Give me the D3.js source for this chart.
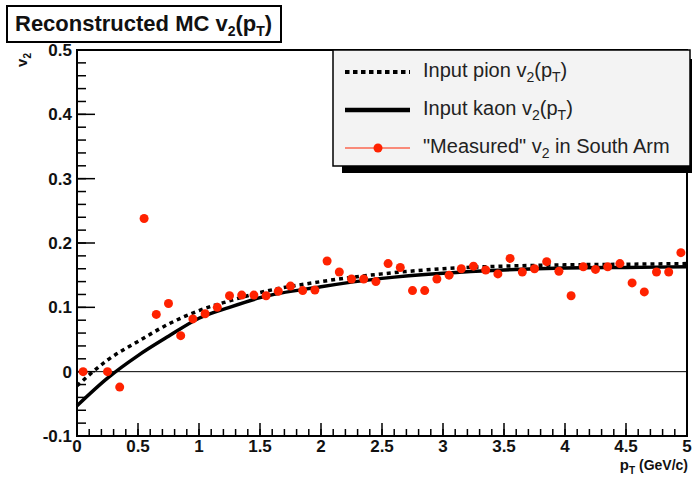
<!DOCTYPE html>
<html>
<head>
<meta charset="utf-8">
<script src="https://cdn.jsdelivr.net/npm/d3@7"></script>
<style>
  body { margin: 0; background: #fff; }
  svg { display: block; font-family: 'Liberation Sans', Arial, Helvetica, sans-serif; }
  .tick-label { font-size: 17px; font-weight: bold; fill: #111; }
  .legend-text { font-size: 20px; fill: #222; }
</style>
</head>
<body>
<div id="chart"></div>
<script>
// input v2(pT) curves
var curvePt = [0, 0.25, 0.5, 0.75, 1, 1.25, 1.5, 2, 2.5, 3, 3.5, 4, 4.5, 5];
var pionV2 = [-0.022, 0.018, 0.047, 0.074, 0.095, 0.110, 0.123, 0.140, 0.152, 0.160, 0.164, 0.166, 0.167, 0.168];
var kaonV2 = [-0.053, -0.010, 0.025, 0.055, 0.083, 0.100, 0.115, 0.132, 0.145, 0.153, 0.158, 0.161, 0.162, 0.163];

// "measured" points in the south arm
var measuredPt = [0.05, 0.25, 0.35, 0.55, 0.65, 0.75, 0.85, 0.95, 1.05, 1.15, 1.25, 1.35, 1.45, 1.55, 1.65, 1.75,
  1.85, 1.95, 2.05, 2.15, 2.25, 2.35, 2.45, 2.55, 2.65, 2.75, 2.85, 2.95, 3.05, 3.15, 3.25, 3.35, 3.45, 3.55,
  3.65, 3.75, 3.85, 3.95, 4.05, 4.15, 4.25, 4.35, 4.45, 4.55, 4.65, 4.75, 4.85, 4.95];
var measuredV2 = [0.000, 0.000, -0.024, 0.238, 0.089, 0.106, 0.056, 0.082, 0.090, 0.100, 0.118, 0.119, 0.119, 0.118, 0.125, 0.133,
  0.126, 0.127, 0.172, 0.155, 0.144, 0.144, 0.140, 0.168, 0.162, 0.126, 0.126, 0.144, 0.150, 0.160, 0.164, 0.158, 0.152, 0.176,
  0.155, 0.160, 0.171, 0.156, 0.118, 0.163, 0.159, 0.163, 0.168, 0.138, 0.124, 0.155, 0.155, 0.185];

var xMajorTicks = [0, 0.5, 1, 1.5, 2, 2.5, 3, 3.5, 4, 4.5, 5];
var xTickLabels = ['0', '0.5', '1', '1.5', '2', '2.5', '3', '3.5', '4', '4.5', '5'];
var yMajorTicks = [-0.1, 0, 0.1, 0.2, 0.3, 0.4, 0.5];
var yTickLabels = ['-0.1', '0', '0.1', '0.2', '0.3', '0.4', '0.5'];

var width = 692, height = 477;
var frame = { left: 77, right: 687, top: 50, bottom: 436 };
var red = '#ff2200';

var svg = d3.select('#chart').append('svg')
    .attr('width', width)
    .attr('height', height);

var x = d3.scaleLinear().domain([0, 5]).range([frame.left, frame.right]);
var y = d3.scaleLinear().domain([-0.1, 0.5]).range([frame.bottom, frame.top]);

// minor tick positions (0.1 on x, 0.02 on y)
var xMinor = d3.range(0, 51).map(function (i) { return i / 10; });
var yMinor = d3.range(0, 31).map(function (i) { return -0.1 + i * 0.02; });

// x axis: ticks point up into the frame
var xAxis = svg.append('g').attr('class', 'x axis');
xAxis.selectAll('line.minor')
  .data(xMinor)
  .enter().append('line')
    .attr('x1', function (d) { return x(d); })
    .attr('x2', function (d) { return x(d); })
    .attr('y1', frame.bottom)
    .attr('y2', frame.bottom - 7)
    .attr('stroke', '#000')
    .attr('stroke-width', 1.5);
xAxis.selectAll('line.major')
  .data(xMajorTicks)
  .enter().append('line')
    .attr('x1', function (d) { return x(d); })
    .attr('x2', function (d) { return x(d); })
    .attr('y1', frame.bottom)
    .attr('y2', frame.bottom - 13)
    .attr('stroke', '#000')
    .attr('stroke-width', 1.5);
xAxis.selectAll('text')
  .data(xMajorTicks)
  .enter().append('text')
    .attr('class', 'tick-label')
    .attr('x', function (d) { return x(d); })
    .attr('y', 452)
    .attr('text-anchor', 'middle')
    .text(function (d, i) { return xTickLabels[i]; });

// y axis: ticks point right into the frame
var yAxis = svg.append('g').attr('class', 'y axis');
yAxis.selectAll('line.minor')
  .data(yMinor)
  .enter().append('line')
    .attr('x1', frame.left)
    .attr('x2', frame.left + 9)
    .attr('y1', function (d) { return y(d); })
    .attr('y2', function (d) { return y(d); })
    .attr('stroke', '#000')
    .attr('stroke-width', 1.5);
yAxis.selectAll('line.major')
  .data(yMajorTicks)
  .enter().append('line')
    .attr('x1', frame.left)
    .attr('x2', frame.left + 18)
    .attr('y1', function (d) { return y(d); })
    .attr('y2', function (d) { return y(d); })
    .attr('stroke', '#000')
    .attr('stroke-width', 1.5);
yAxis.selectAll('text')
  .data(yMajorTicks)
  .enter().append('text')
    .attr('class', 'tick-label')
    .attr('x', 72)
    .attr('y', function (d) { return y(d) + 6; })
    .attr('text-anchor', 'end')
    .text(function (d, i) { return yTickLabels[i]; });

// frame
svg.append('rect')
    .attr('x', frame.left)
    .attr('y', frame.top)
    .attr('width', frame.right - frame.left)
    .attr('height', frame.bottom - frame.top)
    .attr('fill', 'none')
    .attr('stroke', '#000')
    .attr('stroke-width', 2);

// zero line
svg.append('line')
    .attr('x1', x(0))
    .attr('x2', x(5))
    .attr('y1', y(0))
    .attr('y2', y(0))
    .attr('stroke', '#000')
    .attr('stroke-width', 1);

// input curves
var line = d3.line()
    .x(function (d) { return x(d[0]); })
    .y(function (d) { return y(d[1]); })
    .curve(d3.curveMonotoneX);

svg.append('path')
    .attr('d', line(d3.zip(curvePt, kaonV2)))
    .attr('fill', 'none')
    .attr('stroke', '#000')
    .attr('stroke-width', 3.5);

svg.append('path')
    .attr('d', line(d3.zip(curvePt, pionV2)))
    .attr('fill', 'none')
    .attr('stroke', '#000')
    .attr('stroke-width', 3.5)
    .attr('stroke-dasharray', '4,4');

// measured points
svg.append('g').selectAll('circle')
  .data(d3.zip(measuredPt, measuredV2))
  .enter().append('circle')
    .attr('cx', function (d) { return x(d[0]); })
    .attr('cy', function (d) { return y(d[1]); })
    .attr('r', 4.5)
    .attr('fill', red);

// axis titles
var yTitle = svg.append('text')
    .attr('transform', 'translate(27,53) rotate(-90)')
    .attr('text-anchor', 'end')
    .attr('font-size', 15)
    .attr('font-weight', 'bold')
    .attr('fill', '#111');
yTitle.append('tspan').text('v');
yTitle.append('tspan').attr('font-size', 10).attr('dy', 4).text('2');

var xTitle = svg.append('text')
    .attr('x', 688)
    .attr('y', 470)
    .attr('text-anchor', 'end')
    .attr('font-size', 14)
    .attr('font-weight', 'bold')
    .attr('fill', '#111');
xTitle.append('tspan').attr('font-size', 15).text('p');
xTitle.append('tspan').attr('font-size', 10).attr('dy', 4).text('T');
xTitle.append('tspan').attr('dy', -4).text(' (GeV/c)');

// title box
svg.append('rect')
    .attr('x', 7)
    .attr('y', 6)
    .attr('width', 274)
    .attr('height', 36)
    .attr('fill', '#fff')
    .attr('stroke', '#000')
    .attr('stroke-width', 2);

var title = svg.append('text')
    .attr('x', 15)
    .attr('y', 31)
    .attr('font-size', 22)
    .attr('font-weight', 'bold')
    .attr('fill', '#111');
title.append('tspan').text('Reconstructed MC v');
title.append('tspan').attr('font-size', 14).attr('dy', 5).text('2');
title.append('tspan').attr('dy', -5).text('(p');
title.append('tspan').attr('font-size', 14).attr('dy', 5).text('T');
title.append('tspan').attr('dy', -5).text(')');

// legend with shadow
var legend = svg.append('g').attr('class', 'legend');
legend.append('rect')
    .attr('x', 342)
    .attr('y', 59)
    .attr('width', 357)
    .attr('height', 114)
    .attr('fill', '#000');
legend.append('rect')
    .attr('x', 333)
    .attr('y', 50)
    .attr('width', 357)
    .attr('height', 116)
    .attr('fill', '#f3f3f3')
    .attr('stroke', '#000')
    .attr('stroke-width', 1.5);

var entries = [
  { label: 'Input pion v', type: 'dotted', y: 72 },
  { label: 'Input kaon v', type: 'solid', y: 110 },
  { label: '"Measured" v', type: 'marker', y: 148 }
];

entries.forEach(function (e) {
  if (e.type === 'marker') {
    legend.append('line')
        .attr('x1', 345).attr('x2', 410)
        .attr('y1', e.y).attr('y2', e.y)
        .attr('stroke', red)
        .attr('stroke-width', 1.2);
    legend.append('circle')
        .attr('cx', 378).attr('cy', e.y)
        .attr('r', 4.5)
        .attr('fill', red);
  } else {
    legend.append('line')
        .attr('x1', 345).attr('x2', 410)
        .attr('y1', e.y).attr('y2', e.y)
        .attr('stroke', '#000')
        .attr('stroke-width', e.type === 'solid' ? 4.5 : 4)
        .attr('stroke-dasharray', e.type === 'dotted' ? '4.5,3.5' : null);
  }

  var t = legend.append('text')
      .attr('class', 'legend-text')
      .attr('x', 423)
      .attr('y', e.y + 5);
  t.append('tspan').text(e.label);
  t.append('tspan').attr('font-size', 14).attr('dy', 5).text('2');
  if (e.type === 'marker') {
    t.append('tspan').attr('dy', -5).text(' in South Arm');
  } else {
    t.append('tspan').attr('dy', -5).text('(p');
    t.append('tspan').attr('font-size', 14).attr('dy', 5).text('T');
    t.append('tspan').attr('dy', -5).text(')');
  }
});
</script>
</body>
</html>
